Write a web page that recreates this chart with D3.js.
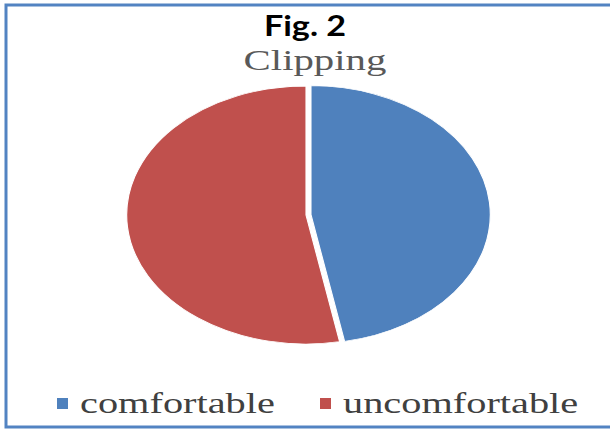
<!DOCTYPE html>
<html>
<head>
<meta charset="utf-8">
<script src="https://cdn.jsdelivr.net/npm/d3@7"></script>
<style>
  html, body { margin: 0; padding: 0; background: #fff; }
  svg { display: block; }
</style>
</head>
<body>
<div id="chart"></div>
<script>
// chart data
const categories = ["comfortable", "uncomfortable"];
const values = [47, 53];
const colors = ["#4f81bd", "#c0504d"];
const figLabel = "Fig. 2";
const chartTitle = "Clipping";

const width = 610, height = 429;
const sx = 1.39; // picture is stretched horizontally

const svg = d3.select('#chart').append('svg')
	.attr('width', width)
	.attr('height', height);

// frame (no right edge visible in the picture)
svg.append('rect')
	.attr('x', 6)
	.attr('y', 5)
	.attr('width', width + 20)
	.attr('height', 422)
	.attr('fill', 'none')
	.attr('stroke', '#5283c2')
	.attr('stroke-width', 3);

// titles
svg.append('text')
	.attr('transform', `translate(305,36) scale(1.22,1)`)
	.attr('text-anchor', 'middle')
	.attr('font-family', 'Lato, "Open Sans", sans-serif')
	.attr('font-weight', 700)
	.attr('font-size', 28)
	.attr('fill', '#000')
	.text(figLabel);

svg.append('text')
	.attr('transform', `translate(315,70) scale(1.36,1)`)
	.attr('text-anchor', 'middle')
	.attr('font-family', '"Liberation Serif", "Times New Roman", serif')
	.attr('font-size', 30)
	.attr('fill', '#595959')
	.text(chartTitle);

// pie
const ry = 129;
const pie = d3.pie().sort(null).value(d => d);
const arc = d3.arc().innerRadius(0).outerRadius(ry);
const explode = [3.6, 0];

const g = svg.append('g')
	.attr('transform', `translate(306,215) scale(${sx},1)`);

g.selectAll('path')
	.data(pie(values))
	.join('path')
	.attr('transform', (d, i) => {
		const a = (d.startAngle + d.endAngle) / 2;
		return `translate(${Math.sin(a) * explode[i]},${-Math.cos(a) * explode[i]})`;
	})
	.attr('d', arc)
	.attr('fill', (d, i) => colors[i])
	.attr('stroke', '#fff')
	.attr('stroke-width', 0.8);

// legend
const legendX = [57, 320];
const legend = svg.append('g').selectAll('g')
	.data(categories)
	.join('g')
	.attr('transform', (d, i) => `translate(${legendX[i]},0)`);

legend.append('rect')
	.attr('x', 0)
	.attr('y', 398)
	.attr('width', 11)
	.attr('height', 11)
	.attr('fill', (d, i) => colors[i]);

legend.append('text')
	.attr('transform', `translate(23,413) scale(1.345,1)`)
	.attr('font-family', '"Liberation Serif", "Times New Roman", serif')
	.attr('font-size', 30)
	.attr('fill', '#404040')
	.text(d => d);
</script>
</body>
</html>
